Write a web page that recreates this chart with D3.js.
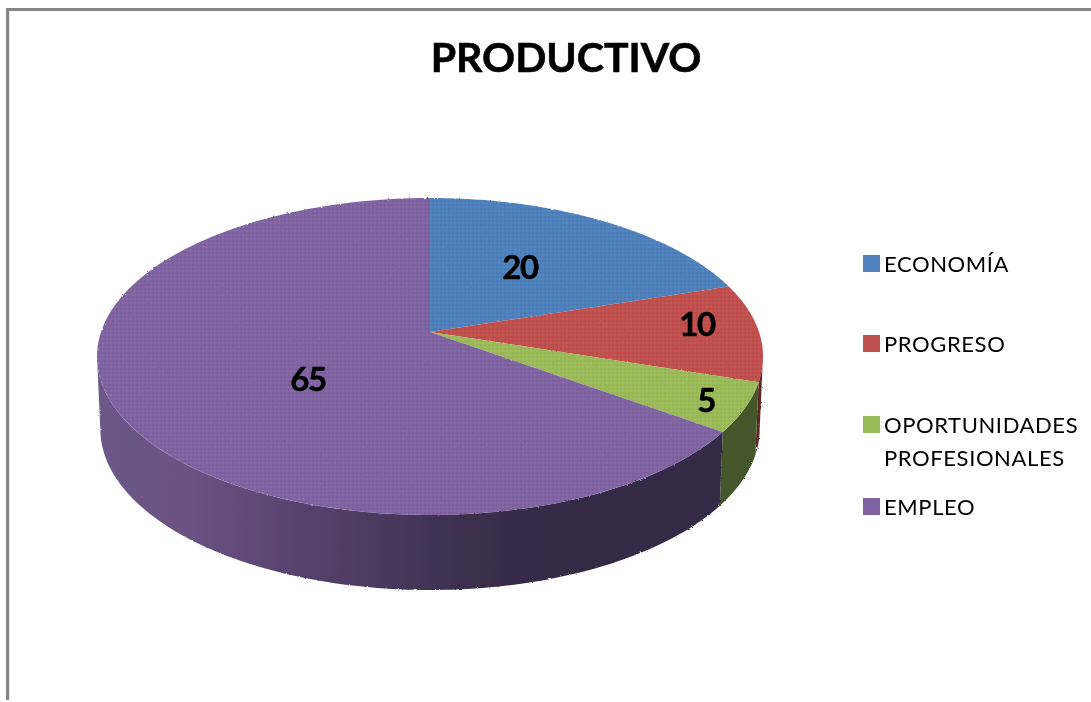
<!DOCTYPE html>
<html>
<head>
<meta charset="utf-8">
<script src="https://cdn.jsdelivr.net/npm/d3@7"></script>
<style>
    html, body { margin: 0; padding: 0; background: #fff; overflow: hidden; }
    svg { display: block; }
    text { font-family: Lato, "Open Sans", sans-serif; fill: #000; }
</style>
</head>
<body>
<script>
"use strict";

const categories = ["ECONOMÍA", "PROGRESO", "OPORTUNIDADES PROFESIONALES", "EMPLEO"];
const values = [20, 10, 5, 65];
const topColors = ["#4f81bd", "#c0504d", "#9bbb59", "#8064a2"];
const sideStops = [
    ["#2a4160"],
    ["#602826"],
    ["#3c4c20", "#44562a"],
    ["#6c5888", "#6a5282", "#594470", "#4b3a5f", "#3c2e4d", "#342a45"]
];
const legendLines = [["ECONOMÍA"], ["PROGRESO"], ["OPORTUNIDADES", "PROFESIONALES"], ["EMPLEO"]];

const width = 1091, height = 702;
const cx = 430, cy = 332;
// perspective disc, fitted to the top, bottom and widest points
const persp = 0.1546, scaleX = 329, scaleY = 154.7;
// lower rim is a bit narrower and taller than the top one
const rimX = 0.99, rimY = 1.016, rimCentre = 429, topCentre = 24.5;

let svg = d3.select("body").append("svg")
    .attr("width", width)
    .attr("height", height);

let defs = svg.append("defs");

// the picture is an upscaled bitmap, so text is a little soft
defs.append("filter").attr("id", "soft")
    .append("feGaussianBlur").attr("stdDeviation", 0.45);

// rough outer edge of the pie
let rough = defs.append("filter").attr("id", "rough")
    .attr("x", "-2%").attr("y", "-2%").attr("width", "104%").attr("height", "104%");
rough.append("feTurbulence")
    .attr("type", "fractalNoise").attr("baseFrequency", 0.45).attr("numOctaves", 1)
    .attr("seed", 3).attr("result", "n");
rough.append("feDisplacementMap")
    .attr("in", "SourceGraphic").attr("in2", "n").attr("scale", 2.5);

// dotted screen over the pie
let screen = defs.append("pattern").attr("id", "screen")
    .attr("patternUnits", "userSpaceOnUse")
    .attr("width", 4).attr("height", 4);
screen.append("rect").attr("width", 2).attr("height", 2).attr("fill", "#000").attr("opacity", 0.035);
screen.append("rect").attr("x", 2).attr("y", 2).attr("width", 2).attr("height", 2).attr("fill", "#fff").attr("opacity", 0.035);

// chart frame: only top and left edges are in the picture
svg.append("path")
    .attr("d", d3.line()([[9.5, height], [9.5, 11]]))
    .attr("fill", "none").attr("stroke", "#e4e4e4").attr("stroke-width", 1);
svg.append("path")
    .attr("d", d3.line()([[7.5, height - 2], [7.5, 9.5], [width, 9.5]]))
    .attr("fill", "none").attr("stroke", "#868686").attr("stroke-width", 3);

let slices = d3.pie().sort(null)(values);

function project(a) {
    let u = Math.sin(a), v = -Math.cos(a), w = 1 - persp * v;
    return [cx + scaleX * u / w, cy + scaleY * v / w];
}

function projectRim(a) {
    let p = project(a);
    return [cx + (p[0] - cx) * rimX, rimCentre + (p[1] - cy - topCentre) * rimY];
}

function samples(a0, a1) {
    return d3.range(0, 121).map(function (i) {
        return a0 + (a1 - a0) * i / 120;
    });
}

let line = d3.line();

sideStops.forEach(function (s, i) {
    let g = defs.append("linearGradient")
        .attr("id", "side" + i)
        .attr("gradientUnits", "userSpaceOnUse")
        .attr("x1", 100).attr("x2", 560)
        .attr("y1", 0).attr("y2", 0);
    s.forEach(function (c, j) {
        g.append("stop")
            .attr("offset", s.length > 1 ? j / (s.length - 1) : 0)
            .attr("stop-color", c);
    });
});

let pie = svg.append("g").attr("filter", "url(#rough)");

// outer wall, between the two widest points of the disc
const wallStart = Math.PI / 2 + Math.asin(persp), wallEnd = 3 * Math.PI / 2 - Math.asin(persp);
slices.forEach(function (d, i) {
    let a0 = Math.max(d.startAngle, wallStart), a1 = Math.min(d.endAngle, wallEnd);
    if (a1 <= a0) return;
    let top = samples(a0, a1).map(project);
    let bottom = samples(a0, a1).reverse().map(projectRim);
    pie.append("path")
        .attr("d", line(top.concat(bottom)) + "Z")
        .attr("fill", "url(#side" + i + ")");
});

// top face
pie.selectAll("path.slice")
    .data(slices)
    .enter().append("path")
    .attr("class", "slice")
    .attr("d", function (d) {
        let pts = samples(d.startAngle, d.endAngle).map(project);
        return line([[cx, cy]].concat(pts)) + "Z";
    })
    .attr("fill", function (d, i) { return topColors[i]; });

pie.append("path")
    .attr("d", line(samples(0, 2 * Math.PI).map(project)) + "Z")
    .attr("fill", "url(#screen)");

// value labels
const labelSpots = [[520, 279], [697, 336], [706, 412], [308, 391]];
svg.selectAll("text.value")
    .data(values)
    .enter().append("text")
    .attr("class", "value")
    .attr("x", function (d, i) { return labelSpots[i][0]; })
    .attr("y", function (d, i) { return labelSpots[i][1]; })
    .attr("text-anchor", "middle")
    .attr("font-size", 33)
    .attr("font-weight", 700)
    .attr("letter-spacing", -1.5)
    .attr("stroke", "#000")
    .attr("stroke-width", 0.5)
    .attr("filter", "url(#soft)")
    .text(function (d) { return d; });

svg.append("text")
    .attr("x", 566).attr("y", 72)
    .attr("text-anchor", "middle")
    .attr("font-size", 41)
    .attr("font-weight", 700)
    .attr("stroke", "#000")
    .attr("stroke-width", 0.6)
    .attr("filter", "url(#soft)")
    .text("PRODUCTIVO");

// legend
const legendY = [255, 335, 416, 498];
let legend = svg.selectAll("g.legend")
    .data(categories)
    .enter().append("g")
    .attr("class", "legend")
    .attr("transform", function (d, i) { return "translate(863," + legendY[i] + ")"; });

legend.append("rect")
    .attr("width", 17).attr("height", 17)
    .attr("fill", function (d, i) { return topColors[i]; });

legend.each(function (d, i) {
    d3.select(this).selectAll("text")
        .data(legendLines[i])
        .enter().append("text")
        .attr("x", 21)
        .attr("y", function (t, j) { return 17 + j * 33; })
        .attr("font-size", 22)
        .attr("letter-spacing", 0.6)
        .attr("filter", "url(#soft)")
        .text(function (t) { return t; });
});
</script>
</body>
</html>
